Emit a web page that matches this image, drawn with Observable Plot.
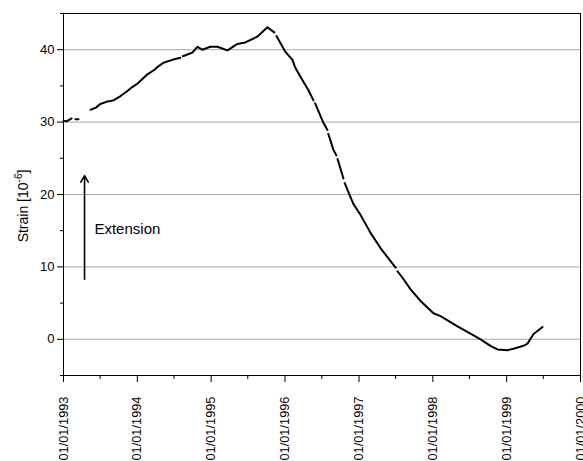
<!DOCTYPE html>
<html>
<head>
<meta charset="utf-8">
<script src="https://cdn.jsdelivr.net/npm/d3@7"></script>
<script src="https://cdn.jsdelivr.net/npm/@observablehq/plot@0.6"></script>
<style>
  html, body { margin: 0; padding: 0; background: #fff; overflow: hidden; }
</style>
</head>
<body>
<div id="chart"></div>
<script>
// ---- data ----
const segment = [
  1,1,1,
  2,2,
  3,3,3,3,3,3,3,3,3,3,3,3,3,3,3,
  4,4,4,4,4,4,4,4,4,4,4,4,
  5,5,5,5,5,5,5,
  6,6,6,
  7,7,7,
  8,8,
  9,9,9,9,9,9,9,9,
  10,10,10,10,10,10,10,10,10,10,10,10,10,10,10,10,10
];
const dates = [
  "1993-01-01","1993-01-16","1993-02-10",
  "1993-03-01","1993-03-16",
  "1993-05-15","1993-06-10","1993-07-02","1993-08-01","1993-09-05","1993-10-10","1993-11-13","1993-12-05","1994-01-01","1994-02-20","1994-03-25","1994-04-15","1994-05-10","1994-06-23","1994-08-02",
  "1994-08-14","1994-09-30","1994-10-25","1994-11-18","1994-12-28","1995-02-01","1995-03-23","1995-05-11","1995-06-19","1995-08-17","1995-10-06","1995-11-09",
  "1995-11-20","1996-01-03","1996-02-07","1996-02-21","1996-03-27","1996-04-26","1996-05-21",
  "1996-05-29","1996-07-09","1996-07-29",
  "1996-08-02","1996-08-27","1996-09-11",
  "1996-09-17","1996-10-16",
  "1996-10-22","1996-11-10","1996-12-04","1997-01-08","1997-02-27","1997-04-17","1997-06-06","1997-07-01",
  "1997-07-10","1997-08-04","1997-09-13","1997-11-01","1998-01-04","1998-02-08","1998-05-03","1998-07-06","1998-08-25","1998-10-13","1998-11-16","1999-01-05","1999-02-04","1999-03-25","1999-04-14","1999-05-13","1999-06-27"
];
const strain = [
  30.2,30.1,30.5,
  30.4,30.4,
  31.7,32.0,32.5,32.8,33.0,33.6,34.3,34.8,35.3,36.6,37.2,37.7,38.2,38.6,38.9,
  39.1,39.6,40.4,40.0,40.4,40.4,39.9,40.8,41.0,41.8,43.1,42.4,
  41.9,39.7,38.6,37.5,35.8,34.4,33.0,
  32.6,29.9,28.9,
  28.4,26.2,25.4,
  24.9,22.2,
  21.6,20.3,18.7,17.2,14.7,12.6,10.8,9.9,
  9.4,8.5,6.9,5.3,3.6,3.2,1.8,0.8,0.0,-0.9,-1.4,-1.5,-1.3,-0.9,-0.6,0.7,1.7
];

const yMajorTicks = [0, 10, 20, 30, 40];
const yMinorTicks = [-5, 5, 15, 25, 35, 45];
const xMajorTicks = ["1993-01-01","1994-01-01","1995-01-01","1996-01-01","1997-01-01","1998-01-01","1999-01-01","2000-01-01"];
const xMinorTicks = ["1993-07-01","1994-07-01","1995-07-01","1996-07-01","1997-07-01","1998-07-01","1999-07-01"];
const xDomain = ["1993-01-01", "2000-01-01"];
const yDomain = [-5, 45];

// annotation
const arrowDate = "1993-04-15";
const arrowFrom = 8.3;
const arrowTo = 22.6;
const annotationText = "Extension";
const annotationDate = "1993-06-03";
const annotationValue = 15.2;

// ---- build ----
const parse = d3.utcParse("%Y-%m-%d");
const rows = dates.map((d, i) => ({date: parse(d), strain: strain[i], seg: segment[i]}));

const chart = Plot.plot({
  width: 583,
  height: 461,
  marginLeft: 63,
  marginRight: 3,
  marginTop: 13,
  marginBottom: 86,
  style: {fontFamily: "'Liberation Sans', Arial, sans-serif", fontSize: "13px", color: "#000", background: "#fff", overflow: "hidden"},
  x: {type: "utc", domain: xDomain.map(parse)},
  y: {domain: yDomain},
  marks: [
    Plot.ruleY(yMajorTicks, {stroke: "#a9a9a9", strokeWidth: 1}),
    Plot.frame({stroke: "#000", strokeWidth: 1}),
    Plot.axisY(yMajorTicks, {tickSize: 6, tickPadding: 3, label: null, fontSize: 13}),
    Plot.axisY(yMinorTicks, {tickSize: 3, text: null, label: null}),
    Plot.axisX(xMajorTicks.map(parse), {tickSize: 7, tickPadding: 14, tickRotate: -90, tickFormat: d3.utcFormat("%d/%m/%Y"), label: null, fontSize: 12.8}),
    Plot.axisX(xMinorTicks.map(parse), {tickSize: 4, text: null, label: null}),
    Plot.line(rows, {x: "date", y: "strain", z: "seg", stroke: "#000", strokeWidth: 2, curve: "linear"}),
    Plot.arrow([{x: parse(arrowDate), y1: arrowFrom, y2: arrowTo}], {x1: "x", x2: "x", y1: "y1", y2: "y2", stroke: "#000", strokeWidth: 1.6, headLength: 7}),
    Plot.text([{x: parse(annotationDate), y: annotationValue, t: annotationText}], {x: "x", y: "y", text: "t", textAnchor: "start", fontSize: 15, fill: "#000"})
  ]
});

document.getElementById("chart").appendChild(chart);

// y-axis title with superscript
const svg = d3.select(chart);
const title = svg.append("text")
  .attr("transform", "translate(28,206) rotate(-90)")
  .attr("text-anchor", "middle")
  .attr("font-size", 14)
  .attr("font-family", "'Liberation Sans', Arial, sans-serif")
  .attr("fill", "#000");
title.append("tspan").text("Strain [10");
title.append("tspan").attr("dy", -6).attr("font-size", 10).text("-6");
title.append("tspan").attr("dy", 6).text("]");
</script>
</body>
</html>
